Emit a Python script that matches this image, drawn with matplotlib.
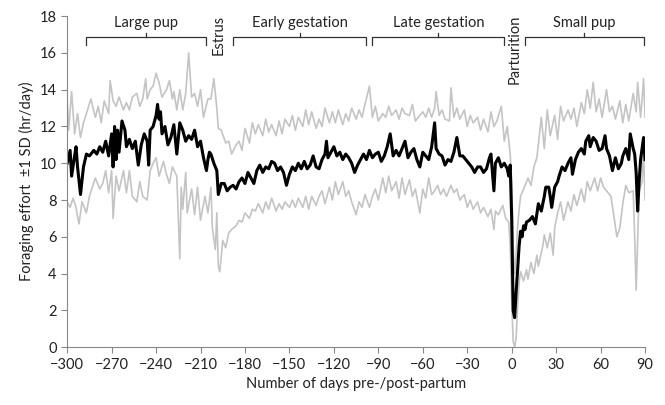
import matplotlib.pyplot as plt

# mean foraging effort (black line)
mean_days = [-300, -298, -297, -295, -294, -293, -291, -289, -287, -285, -282, -280, -278, -276, -274, -272,
             -270, -269, -268, -267, -266, -265, -263, -261, -260, -258, -256, -254, -252, -250, -248, -246,
             -245, -244, -242, -240, -239, -238, -237, -236, -234, -232, -230, -228, -226, -224, -222, -220,
             -218, -216, -214, -212, -210, -208, -206, -205, -204, -203, -201, -199, -198, -196, -194, -192,
             -190, -188, -186, -184, -182, -180, -178, -176, -174, -172, -170, -168, -166, -164, -162, -160,
             -158, -156, -154, -152, -150, -148, -146, -144, -142, -140, -138, -136, -134, -132, -130, -128,
             -126, -125, -124, -122, -120, -118, -116, -114, -112, -110, -108, -106, -104, -102, -100, -98,
             -96, -94, -92, -90, -88, -86, -84, -82, -80, -78, -76, -74, -72, -70, -68, -66,
             -64, -62, -60, -58, -56, -54, -52, -51, -49, -47, -45, -43, -41, -39, -37, -35,
             -33, -31, -29, -27, -25, -23, -21, -19, -17, -15, -14, -12, -11, -9, -7, -5,
             -3, -2, -1, 0, 1, 2, 3, 4, 5, 6, 7, 8, 9, 10, 12, 14,
             16, 18, 20, 22, 23, 25, 26, 27, 29, 31, 32, 34, 36, 38, 40, 41,
             43, 45, 47, 49, 50, 52, 53, 55, 57, 59, 61, 63, 64, 66, 68, 70,
             72, 74, 75, 77, 79, 80, 82, 83, 84, 85, 86, 87, 89, 90]
mean_vals = [10.0, 10.7, 9.3, 10.4, 10.9, 9.8, 8.3, 9.8, 10.5, 10.4, 10.7, 10.5, 10.9, 10.6, 11.2, 10.4,
             11.6, 9.8, 12.0, 10.2, 11.8, 10.6, 12.3, 11.8, 10.9, 11.3, 10.8, 11.2, 9.9, 11.0, 11.6, 11.2,
             9.9, 11.8, 12.0, 12.6, 13.2, 12.4, 12.8, 11.6, 12.0, 11.0, 11.4, 12.1, 10.5, 12.2, 11.8, 11.2,
             11.5, 11.3, 11.8, 10.9, 11.2, 10.3, 9.6, 10.2, 10.6, 10.5, 10.0, 9.6, 8.3, 8.9, 8.9, 8.5,
             8.7, 8.8, 8.6, 9.0, 9.2, 8.9, 9.5, 9.2, 8.9, 9.6, 9.9, 9.5, 9.8, 9.7, 10.1, 10.0,
             9.6, 9.8, 9.5, 8.8, 9.4, 9.8, 9.6, 10.0, 9.7, 10.1, 9.7, 9.9, 10.4, 9.8, 9.7, 10.2,
             10.5, 11.2, 10.3, 10.6, 10.9, 10.4, 10.6, 10.2, 10.5, 10.3, 10.0, 9.5, 9.9, 10.2, 10.5, 10.2,
             10.7, 10.3, 10.5, 10.6, 10.1, 10.4, 10.9, 11.6, 10.4, 10.7, 10.4, 10.8, 11.2, 10.3, 10.6, 10.8,
             10.2, 9.8, 10.6, 10.4, 10.2, 10.9, 12.2, 10.8, 10.5, 10.4, 9.9, 10.2, 10.1, 10.6, 11.4, 10.4,
             10.4, 10.2, 10.0, 9.8, 9.5, 9.8, 9.8, 9.5, 9.7, 10.3, 10.5, 8.5, 10.0, 10.3, 9.8, 10.0,
             9.7, 9.3, 9.9, 7.0, 2.0, 1.6, 3.0, 4.2, 5.5, 6.3, 6.0, 6.6, 6.4, 6.8, 6.9, 7.1,
             6.7, 7.8, 7.4, 8.2, 8.7, 8.7, 8.2, 7.6, 8.7, 9.0, 9.3, 9.8, 9.6, 10.0, 10.3, 9.4,
             10.2, 10.6, 10.8, 10.5, 11.2, 11.5, 10.9, 11.4, 11.2, 10.7, 10.8, 11.5, 10.8, 10.4, 9.6, 10.3,
             9.7, 10.0, 10.4, 10.8, 10.2, 11.6, 10.8, 10.5, 9.5, 7.4, 9.0, 10.2, 11.4, 10.2]

# mean + 1 SD (grey)
upper_days = [-300, -299, -297, -295, -293, -291, -289, -287, -284, -281, -279, -277, -275, -272, -271, -269,
              -267, -265, -262, -260, -258, -256, -253, -251, -249, -247, -246, -244, -242, -240, -238, -236,
              -233, -231, -229, -228, -226, -224, -222, -220, -218, -216, -214, -212, -210, -208, -205, -203,
              -201, -199, -198, -196, -193, -191, -189, -186, -184, -182, -180, -177, -175, -173, -171, -168,
              -166, -164, -162, -159, -157, -155, -153, -150, -148, -146, -144, -141, -139, -137, -135, -132,
              -130, -128, -126, -123, -121, -119, -117, -114, -112, -110, -108, -105, -103, -101, -99, -96,
              -94, -92, -90, -87, -85, -83, -81, -78, -76, -74, -72, -69, -67, -65, -62, -60,
              -58, -56, -54, -52, -51, -49, -47, -45, -42, -41, -39, -37, -35, -32, -30, -28,
              -26, -23, -21, -19, -16, -14, -12, -10, -7, -5, -3, -1, 0, 1, 2, 3,
              4, 5, 6, 8, 11, 13, 15, 17, 19, 20, 22, 24, 26, 29, 31, 33,
              35, 38, 40, 42, 44, 47, 49, 51, 53, 55, 57, 59, 61, 64, 66, 68,
              70, 73, 75, 77, 79, 82, 84, 85, 87, 88, 89, 90]
upper_vals = [13.5, 11.8, 13.9, 11.6, 12.7, 11.4, 12.2, 12.7, 13.5, 12.5, 13.1, 12.2, 13.4, 12.7, 14.5, 13.4,
              13.1, 13.6, 12.9, 13.3, 12.9, 13.6, 13.8, 13.1, 13.5, 14.6, 13.5, 14.0, 14.2, 14.9, 14.4, 13.6,
              14.0, 14.5, 13.5, 13.9, 12.9, 14.0, 12.9, 13.8, 16.0, 13.6, 13.8, 13.1, 14.0, 12.5, 13.5, 13.5,
              14.6, 13.0, 11.9, 11.8, 11.1, 11.2, 10.5, 11.0, 11.2, 10.7, 11.9, 11.1, 12.2, 11.6, 12.1, 11.5,
              12.4, 11.7, 12.1, 11.5, 12.3, 11.6, 12.4, 12.0, 12.6, 11.8, 12.5, 12.0, 12.9, 12.1, 12.8, 11.9,
              12.4, 12.0, 13.0, 12.2, 12.8, 12.2, 12.9, 12.1, 12.7, 12.3, 13.0, 12.4, 12.9, 12.5, 13.2, 14.2,
              12.5, 13.1, 12.3, 12.7, 12.5, 13.1, 12.6, 12.9, 12.4, 13.0, 12.7, 12.6, 13.2, 12.3, 12.6, 12.8,
              12.5, 13.0, 12.5, 13.0, 13.9, 12.6, 12.9, 12.4, 12.3, 14.1, 12.5, 13.0, 12.4, 12.9, 12.0, 12.6,
              12.2, 12.5, 11.8, 12.4, 11.7, 12.8, 12.0, 12.3, 13.1, 11.2, 12.0, 10.5, 9.0, 5.5, 4.0, 5.0,
              6.5, 7.5, 8.2, 8.6, 9.2, 8.8, 9.8, 10.3, 11.8, 12.5, 10.8, 12.9, 11.5, 12.6, 11.3, 13.1,
              12.3, 12.9, 12.4, 13.0, 12.0, 13.3, 12.7, 14.0, 13.0, 14.4, 12.8, 13.5, 12.5, 14.0, 12.8, 13.1,
              12.4, 13.4, 12.2, 13.2, 12.3, 13.8, 12.8, 14.4, 12.5, 13.5, 14.6, 12.5]

# mean - 1 SD (grey)
lower_days = [-300, -298, -296, -294, -293, -292, -290, -287, -285, -283, -281, -278, -276, -274, -272, -270,
              -269, -267, -265, -262, -260, -258, -256, -253, -251, -249, -246, -244, -242, -240, -238, -235,
              -233, -231, -229, -226, -224, -223, -222, -220, -219, -216, -214, -212, -210, -207, -205, -203,
              -202, -200, -199, -198, -197, -195, -193, -191, -189, -186, -184, -182, -180, -177, -175, -173,
              -171, -168, -166, -164, -162, -159, -157, -155, -153, -150, -148, -146, -144, -141, -139, -137,
              -135, -132, -130, -128, -126, -123, -121, -119, -117, -114, -112, -110, -108, -105, -103, -101,
              -99, -96, -94, -92, -90, -87, -85, -83, -81, -78, -76, -74, -72, -69, -67, -65,
              -62, -60, -58, -56, -54, -52, -50, -48, -46, -44, -41, -39, -37, -35, -32, -30,
              -28, -26, -23, -21, -19, -16, -14, -12, -11, -9, -6, -4, -2, -1, 0, 1,
              2, 3, 4, 5, 6, 8, 10, 11, 13, 15, 17, 18, 21, 22, 24, 26,
              28, 29, 31, 33, 35, 38, 40, 42, 44, 47, 49, 51, 53, 56, 58, 60,
              62, 65, 67, 69, 71, 73, 75, 77, 79, 82, 83, 84, 86, 88, 89, 90]
lower_vals = [7.9, 7.6, 8.1, 7.6, 7.1, 6.7, 7.9, 7.3, 8.2, 8.7, 9.2, 8.6, 8.9, 9.6, 8.4, 9.6,
              7.0, 9.3, 8.5, 9.6, 8.4, 9.6, 8.2, 7.9, 9.0, 8.2, 8.0, 9.6, 10.0, 10.3, 9.3, 10.1,
              9.4, 8.9, 9.8, 9.3, 4.8, 8.7, 7.5, 9.5, 7.3, 8.6, 7.2, 8.7, 6.9, 8.2, 7.3, 8.7,
              6.5, 5.3, 7.3, 4.4, 4.1, 5.8, 5.4, 6.2, 6.4, 6.6, 6.9, 6.8, 7.3, 7.0, 7.5, 7.4,
              7.8, 7.3, 7.9, 7.5, 8.1, 7.4, 7.8, 7.5, 7.9, 7.6, 8.0, 7.6, 8.1, 7.6, 8.2, 7.5,
              8.2, 7.7, 8.2, 8.5, 7.8, 8.7, 8.0, 9.0, 8.3, 9.0, 8.2, 8.5, 7.9, 7.2, 7.9, 7.6,
              8.3, 7.6, 8.2, 8.6, 8.0, 9.2, 8.4, 9.3, 8.5, 9.0, 8.1, 9.2, 8.3, 9.1, 8.2, 8.6,
              7.3, 8.6, 8.1, 9.2, 8.3, 8.5, 8.8, 8.3, 8.6, 8.2, 8.8, 8.4, 8.6, 8.0, 8.3, 7.6,
              8.0, 7.5, 7.9, 7.3, 7.6, 7.1, 7.5, 6.4, 7.4, 7.2, 7.7, 7.0, 6.8, 5.5, 2.5, 0.3,
              0.0, 0.5, 2.2, 3.5, 4.1, 3.6, 4.2, 3.7, 4.6, 4.0, 5.0, 4.4, 5.5, 6.1, 5.4, 6.2,
              5.0, 6.5, 7.3, 7.9, 6.9, 7.9, 7.4, 8.3, 7.7, 8.6, 7.9, 9.0, 8.5, 9.2, 8.5, 9.2,
              8.7, 8.4, 8.2, 7.1, 6.0, 6.5, 7.8, 8.8, 8.4, 8.5, 6.0, 3.1, 8.5, 9.0, 10.7, 8.0]

# stage brackets: (label, start day, end day)
stages = [('Large pup', -287, -206), ('Early gestation', -188, -98),
          ('Late gestation', -94, -5), ('Small pup', 9, 89)]
events = [('Estrus', -198, 17.0), ('Parturition', 2, 16.2)]

plt.rcParams['font.family'] = ['Lato', 'DejaVu Sans']
fig = plt.figure(figsize=(6.65, 4.05), dpi=100)
ax = fig.add_axes([0.101, 0.143, 0.869, 0.817])

ax.plot(upper_days, upper_vals, color='#c4c4c4', lw=1.2)
ax.plot(lower_days, lower_vals, color='#c4c4c4', lw=1.2)
ax.plot(mean_days, mean_vals, color='black', lw=2.2)

for name, d0, d1 in stages:
    mid = (d0 + d1) / 2
    ax.plot([d0, d0, d1, d1], [16.45, 16.85, 16.85, 16.45], color='#333333', lw=0.9, clip_on=False)
    ax.plot([mid, mid], [16.85, 17.1], color='#333333', lw=0.9, clip_on=False)
    ax.text(mid, 17.25, name, ha='center', va='bottom', fontsize=10.5, color='#222222')

for name, d, y in events:
    ax.text(d, y, name, rotation=90, ha='center', va='center', fontsize=10.5, color='#222222')

ax.set_xlim(-300, 90)
ax.set_ylim(0, 18)
ax.set_xticks(range(-300, 91, 30))
ax.set_yticks(range(0, 19, 2))
for s in ['top', 'right']:
    ax.spines[s].set_visible(False)
for s in ['left', 'bottom']:
    ax.spines[s].set_color('#888888')
ax.tick_params(colors='#888888', labelcolor='#222222', labelsize=10.5, length=4)
ax.set_xlabel('Number of days pre-/post-partum', fontsize=10.5, color='#222222')
ax.set_ylabel('Foraging effort  \u00b11 SD (hr/day)', fontsize=10.5, color='#222222')

plt.savefig('out.png')
